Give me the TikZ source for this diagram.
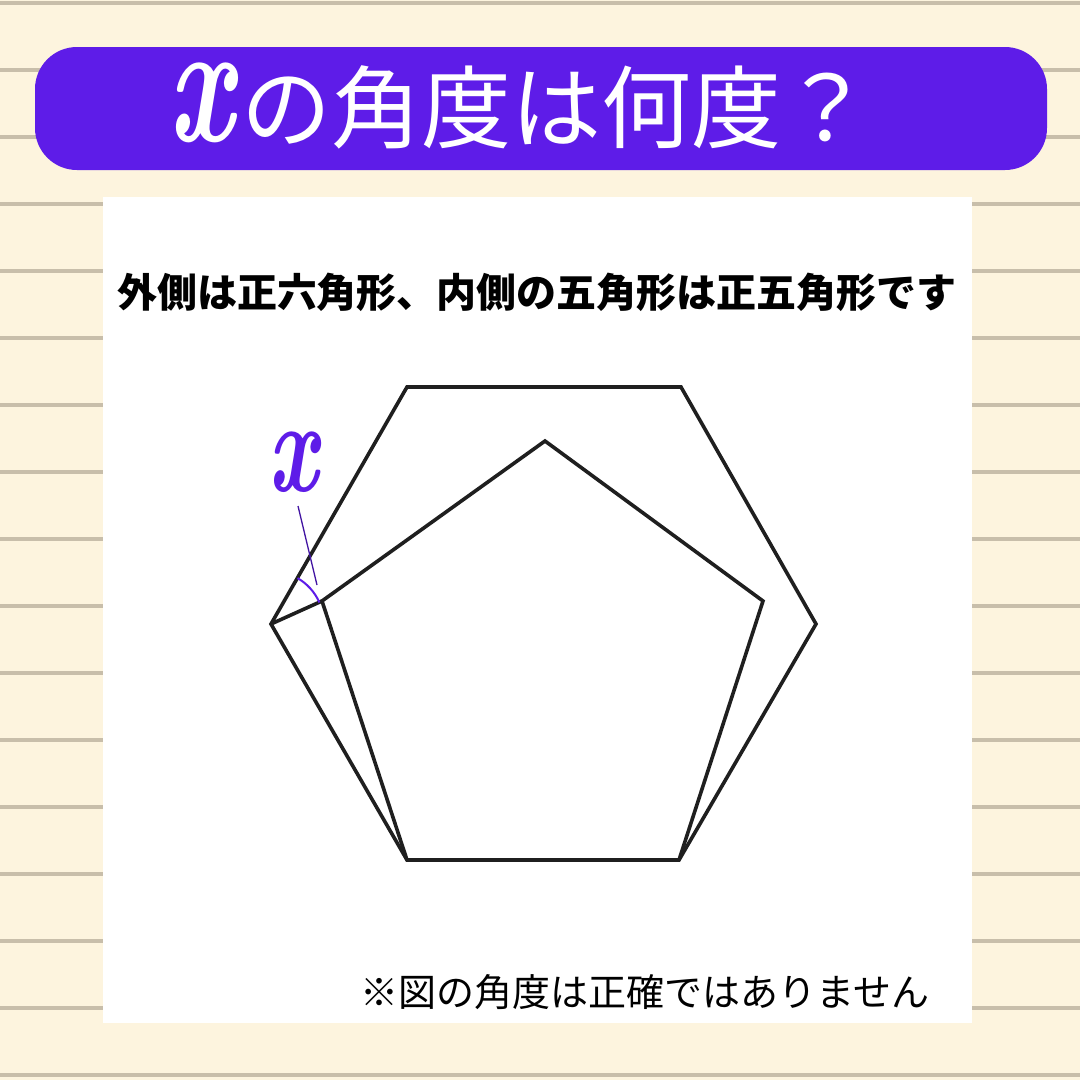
\documentclass[tikz,border=0pt]{standalone}
\usepackage{fontspec}
\usepackage{graphicx}
\setmainfont{Noto Sans CJK JP}
\newfontfamily\xfont{Latin Modern Roman}
\usetikzlibrary{positioning,calc}
\definecolor{bannerpurple}{RGB}{94,28,232}
\definecolor{paper}{RGB}{253,244,222}
\definecolor{ruling}{RGB}{200,190,170}
\tikzstyle{edge}=[draw=black!88,line width=3.6pt,line join=miter]
\tikzstyle{anglemark}=[draw=bannerpurple,line width=2pt]
\tikzstyle{pointer}=[draw=bannerpurple!70!black,line width=1.3pt]
\tikzstyle{titletext}=[text=white,inner sep=0pt,font=\fontsize{90}{98}\selectfont]
\tikzstyle{infotext}=[inner sep=0pt,font=\bfseries\fontsize{40}{48}\selectfont]
\tikzstyle{notetext}=[inner sep=0pt,font=\fontsize{38}{44}\selectfont]
\tikzstyle{xlabel}=[text=bannerpurple,inner sep=0pt,font=\xfont\bfseries\itshape\fontsize{88}{88}\selectfont]

\begin{document}
\begin{tikzpicture}[x=1pt,y=-1pt]
\useasboundingbox (0,0) rectangle (1080,1080);
\fill[paper] (0,0) rectangle (1080,1080);
\foreach \y in {3,70,...,1075}
  \draw[ruling,line width=4pt] (0,\y) -- (1080,\y);
\fill[bannerpurple,rounded corners=42pt] (35,47) rectangle (1047,170);
\fill[white] (103,197) rectangle (972,1023);

\node[titletext] (title) at (520,106)
  {{\xfont\bfseries\itshape\fontsize{116}{116}\selectfont\scalebox{1}[1.5]{x}}\hspace{8pt}の角度は何度？};
\node[infotext] (info) at (537,292) {外側は正六角形、内側の五角形は正五角形です};
\node[notetext] (note) at (645,992) {※図の角度は正確ではありません};

\coordinate (hexA) at (407,387);
\coordinate (hexB) at (681,387);
\coordinate (hexC) at (816,624);
\coordinate (hexD) at (679,860);
\coordinate (hexE) at (407,860);
\coordinate (hexF) at (271,624);
\coordinate (penA) at (545,441);
\coordinate (penB) at (763,601);
\coordinate (penE) at (322,601);

\draw[edge] (hexA) -- (hexB) -- (hexC) -- (hexD) -- (hexE) -- (hexF) -- cycle;
\draw[edge] (hexE) -- (penE) -- (penA) -- (penB) -- (hexD);
\draw[edge] (hexF) -- (penE);

\draw[anglemark] (hexF) ++(-24:53) arc[start angle=-24,end angle=-60,radius=53];
\node[xlabel] (xname) at (293,462) {\scalebox{1}[1.5]{x}};
\coordinate (tickA) at (298,506);
\coordinate (tickB) at (317,585);
\draw[pointer] (tickA) -- (tickB);
\end{tikzpicture}
\end{document}
